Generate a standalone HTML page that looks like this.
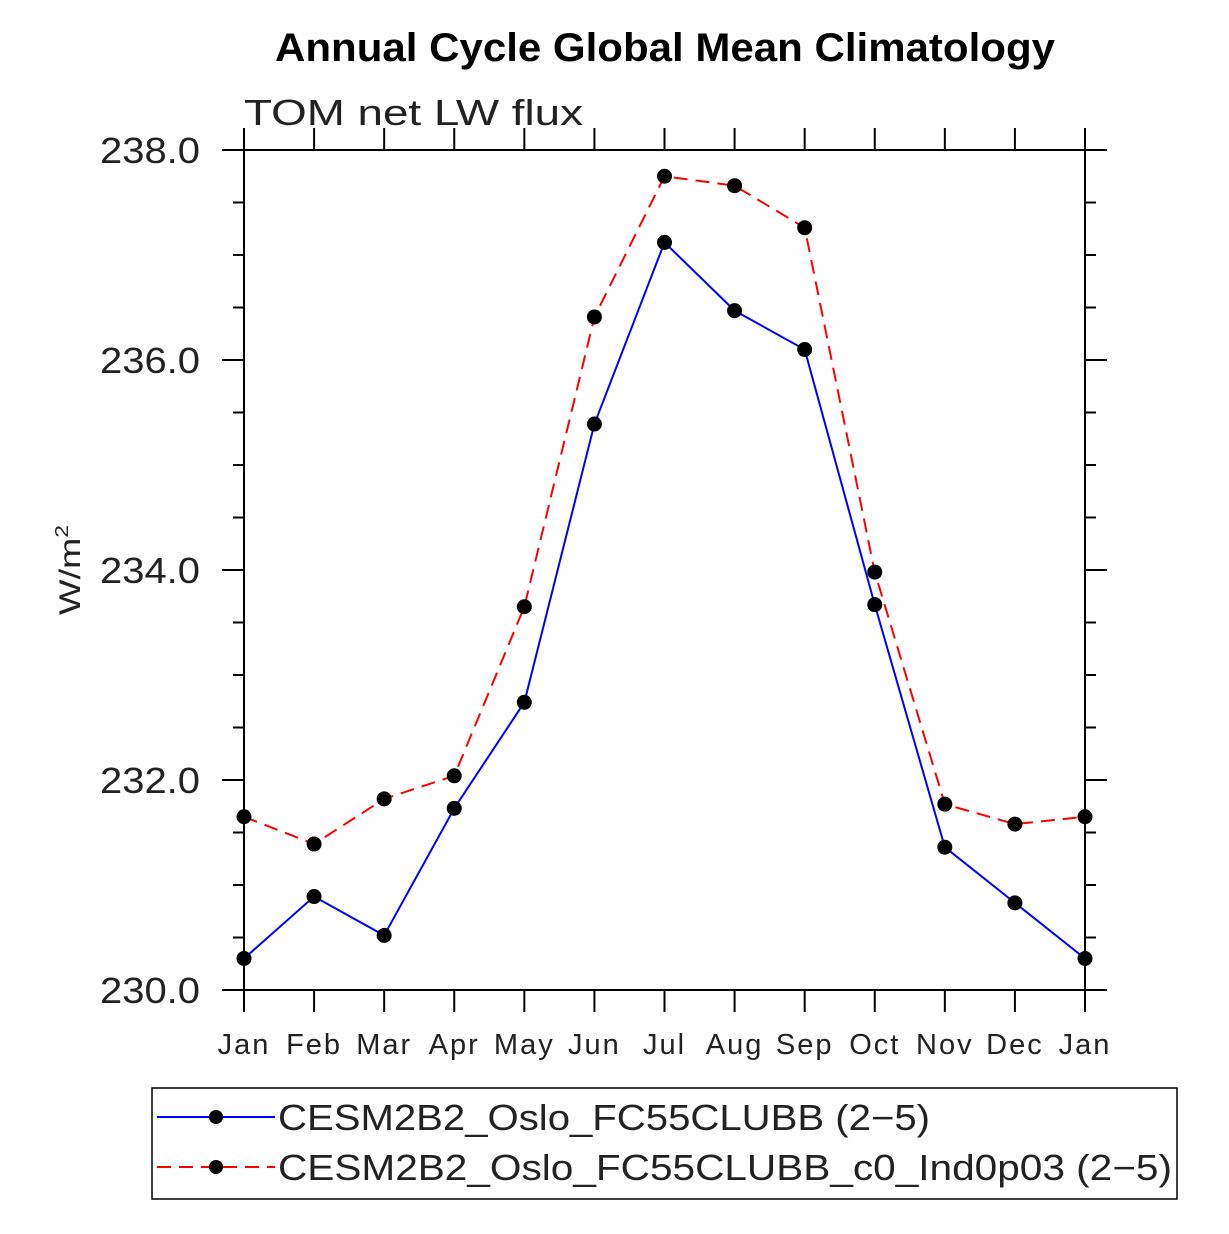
<!DOCTYPE html>
<html><head><meta charset="utf-8"><style>
html,body{margin:0;padding:0;background:#fff;}
svg text{font-family:"Liberation Sans",sans-serif;}
</style></head><body>
<svg id="chart" width="1229" height="1229" viewBox="0 0 1229 1229" xmlns="http://www.w3.org/2000/svg">
<text x="275" y="61" font-size="40" font-weight="bold" textLength="780" lengthAdjust="spacingAndGlyphs">Annual Cycle Global Mean Climatology</text>
<text x="244" y="125" font-size="36" font-weight="300" fill="#222" textLength="339" lengthAdjust="spacingAndGlyphs">TOM net LW flux</text>
<text transform="translate(80,615) rotate(-90)" font-size="30" fill="#222" textLength="90" lengthAdjust="spacingAndGlyphs">W/m<tspan dy="-12" font-size="18">2</tspan></text>
<g id="axes"></g>
<g id="series"></g>
<g>
<rect x="152" y="1088" width="1025" height="111" fill="none" stroke="#000" stroke-width="1.5"/>
<g>
<line x1="157" y1="1117" x2="275" y2="1117" stroke="#0000ff" stroke-width="2"/>
<circle cx="216" cy="1117" r="7" fill="#000"/>
<text x="278" y="1130" font-size="36" font-weight="300" fill="#222" textLength="652" lengthAdjust="spacingAndGlyphs">CESM2B2_Oslo_FC55CLUBB (2−5)</text>
</g>
<g>
<line x1="157" y1="1167" x2="275" y2="1167" stroke="#ff0000" stroke-width="2" stroke-dasharray="14,8"/>
<circle cx="216" cy="1167" r="7" fill="#000"/>
<text x="278" y="1180" font-size="36" font-weight="300" fill="#222" textLength="894" lengthAdjust="spacingAndGlyphs">CESM2B2_Oslo_FC55CLUBB_c0_Ind0p03 (2−5)</text>
</g>
</g>
</svg>
<script>
const months = ["Jan","Feb","Mar","Apr","May","Jun","Jul","Aug","Sep","Oct","Nov","Dec","Jan"];
const blueValues = [230.30,230.89,230.52,231.73,232.74,235.39,237.12,236.47,236.10,233.67,231.36,230.83,230.30];
const redValues = [231.65,231.39,231.82,232.04,233.65,236.41,237.75,237.66,237.26,233.98,231.77,231.58,231.65];
const yTicks = [230,232,234,236,238];
const yTickLabels = ["230.0","232.0","234.0","236.0","238.0"];
const yMin = 230, yMax = 238;
const L=244,R=1085,T=150,B=990;
const NS="http://www.w3.org/2000/svg";
function x(i){return L+(R-L)*i/(months.length-1);}
function y(v){return B-(v-yMin)/(yMax-yMin)*(B-T);}
function mk(tag,attrs,parent){const e=document.createElementNS(NS,tag);for(const k in attrs)e.setAttribute(k,attrs[k]);parent.appendChild(e);return e;}
const ax=document.getElementById('axes');
const frame=mk('rect',{x:L,y:T,width:R-L,height:B-T,fill:'none',stroke:'#000','stroke-width':2},ax);


for(let v=yMin; v<=yMax+1e-9; v+=0.5){
  const major=Math.abs(v-Math.round(v/2)*2)<1e-9;
  const len=major?22:11;
  const yy=y(v);
  const t1=mk('line',{x1:L-len,y1:yy,x2:L,y2:yy,stroke:'#000','stroke-width':2},ax);
  
  
  const t2=mk('line',{x1:R,y1:yy,x2:R+len,y2:yy,stroke:'#000','stroke-width':2},ax);
  
  
}
yTicks.forEach((v,i)=>{
  const t=mk('text',{x:100,y:y(v)+13,'font-size':36,'font-weight':300,fill:'#222',textLength:100,lengthAdjust:'spacingAndGlyphs'},ax);
  t.textContent=yTickLabels[i];
  
  
});
months.forEach((m,i)=>{
  const xx=x(i);
  const b=mk('line',{x1:xx,y1:B,x2:xx,y2:B+22,stroke:'#000','stroke-width':2},ax);
  
  
  const tt=mk('line',{x1:xx,y1:T-22,x2:xx,y2:T,stroke:'#000','stroke-width':2},ax);
  
  
  const t=mk('text',{x:xx,y:1054,'text-anchor':'middle','font-size':29,'font-weight':300,fill:'#222','letter-spacing':2},ax);
  t.textContent=m;
  
  
});
const sg=document.getElementById('series');
function drawSeries(vals,color,dash,name){
  const g=mk('g',{},sg);
  
  
  const pts=vals.map((v,i)=>x(i)+','+y(v)).join(' ');
  const attrs={points:pts,fill:'none',stroke:color,'stroke-width':2};
  if(dash)attrs['stroke-dasharray']=dash;
  const pl=mk('polyline',attrs,g);
  
  
  vals.forEach((v,i)=>{
    const c=mk('circle',{cx:x(i),cy:y(v),r:7.5,fill:'#000'},g);
    
    
  });
}
drawSeries(redValues,'#ff0000','14,8','series-c0-ind0p03');
drawSeries(blueValues,'#0000ff',null,'series-fc55clubb');
</script>
</body></html>
